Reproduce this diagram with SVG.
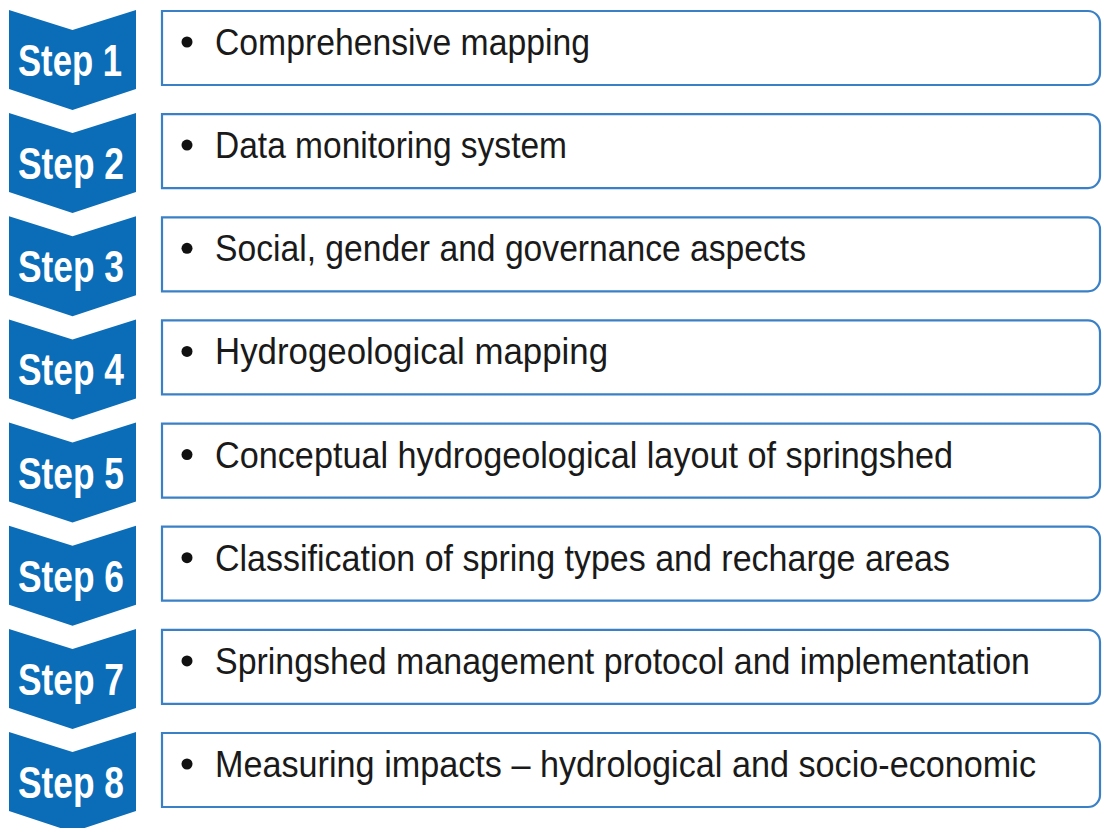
<svg xmlns="http://www.w3.org/2000/svg" width="1102" height="828" viewBox="0 0 1102 828">
<defs>
<style>
.chev{fill:#0b6db7;}
.box{fill:#ffffff;stroke:#3a80c6;stroke-width:2.2;}
.lbl{font-family:"Liberation Sans",Arial,sans-serif;font-weight:bold;font-size:44px;fill:#ffffff;}
.txt{font-family:"Liberation Sans",Arial,sans-serif;font-size:36.5px;fill:#1a1a1a;}
.dot{fill:#111111;}
</style>
<path id="chevShape" class="chev" d="M9,10 L72.5,30 L136,10 L136,89 L72.5,110 L9,89 Z"/>
<path id="boxShape" class="box" d="M162,11 H1088 A12,12 0 0 1 1100,23 V73 A12,12 0 0 1 1088,85 H162 Z"/>
</defs>
<rect width="1102" height="828" fill="#ffffff"/>
<g id="connectors"></g>
<g id="step1" transform="translate(0,0)">
<use href="#chevShape"/><text class="lbl" x="18" y="76" textLength="104" lengthAdjust="spacingAndGlyphs">Step 1</text>
<use href="#boxShape"/><circle class="dot" cx="187" cy="42" r="5.5"/>
<text class="txt" x="215" y="55" textLength="375" lengthAdjust="spacingAndGlyphs">Comprehensive mapping</text>
</g>
<g id="step2" transform="translate(0,103.1)">
<use href="#chevShape"/><text class="lbl" x="18" y="76" textLength="106" lengthAdjust="spacingAndGlyphs">Step 2</text>
<use href="#boxShape"/><circle class="dot" cx="187" cy="42" r="5.5"/>
<text class="txt" x="215" y="55" textLength="352" lengthAdjust="spacingAndGlyphs">Data monitoring system</text>
</g>
<g id="step3" transform="translate(0,206.3)">
<use href="#chevShape"/><text class="lbl" x="18" y="76" textLength="106" lengthAdjust="spacingAndGlyphs">Step 3</text>
<use href="#boxShape"/><circle class="dot" cx="187" cy="42" r="5.5"/>
<text class="txt" x="215" y="55" textLength="591" lengthAdjust="spacingAndGlyphs">Social, gender and governance aspects</text>
</g>
<g id="step4" transform="translate(0,309.4)">
<use href="#chevShape"/><text class="lbl" x="18" y="76" textLength="106" lengthAdjust="spacingAndGlyphs">Step 4</text>
<use href="#boxShape"/><circle class="dot" cx="187" cy="42" r="5.5"/>
<text class="txt" x="215" y="55" textLength="393" lengthAdjust="spacingAndGlyphs">Hydrogeological mapping</text>
</g>
<g id="step5" transform="translate(0,412.6)">
<use href="#chevShape"/><text class="lbl" x="18" y="76" textLength="106" lengthAdjust="spacingAndGlyphs">Step 5</text>
<use href="#boxShape"/><circle class="dot" cx="187" cy="42" r="5.5"/>
<text class="txt" x="215" y="55" textLength="738" lengthAdjust="spacingAndGlyphs">Conceptual hydrogeological layout of springshed</text>
</g>
<g id="step6" transform="translate(0,515.7)">
<use href="#chevShape"/><text class="lbl" x="18" y="76" textLength="106" lengthAdjust="spacingAndGlyphs">Step 6</text>
<use href="#boxShape"/><circle class="dot" cx="187" cy="42" r="5.5"/>
<text class="txt" x="215" y="55" textLength="735" lengthAdjust="spacingAndGlyphs">Classification of spring types and recharge areas</text>
</g>
<g id="step7" transform="translate(0,618.9)">
<use href="#chevShape"/><text class="lbl" x="18" y="76" textLength="106" lengthAdjust="spacingAndGlyphs">Step 7</text>
<use href="#boxShape"/><circle class="dot" cx="187" cy="42" r="5.5"/>
<text class="txt" x="215" y="55" textLength="815" lengthAdjust="spacingAndGlyphs">Springshed management protocol and implementation</text>
</g>
<g id="step8" transform="translate(0,722)">
<use href="#chevShape"/><text class="lbl" x="18" y="76" textLength="106" lengthAdjust="spacingAndGlyphs">Step 8</text>
<use href="#boxShape"/><circle class="dot" cx="187" cy="42" r="5.5"/>
<text class="txt" x="215" y="55" textLength="821" lengthAdjust="spacingAndGlyphs">Measuring impacts – hydrological and socio-economic</text>
</g>
</svg>
